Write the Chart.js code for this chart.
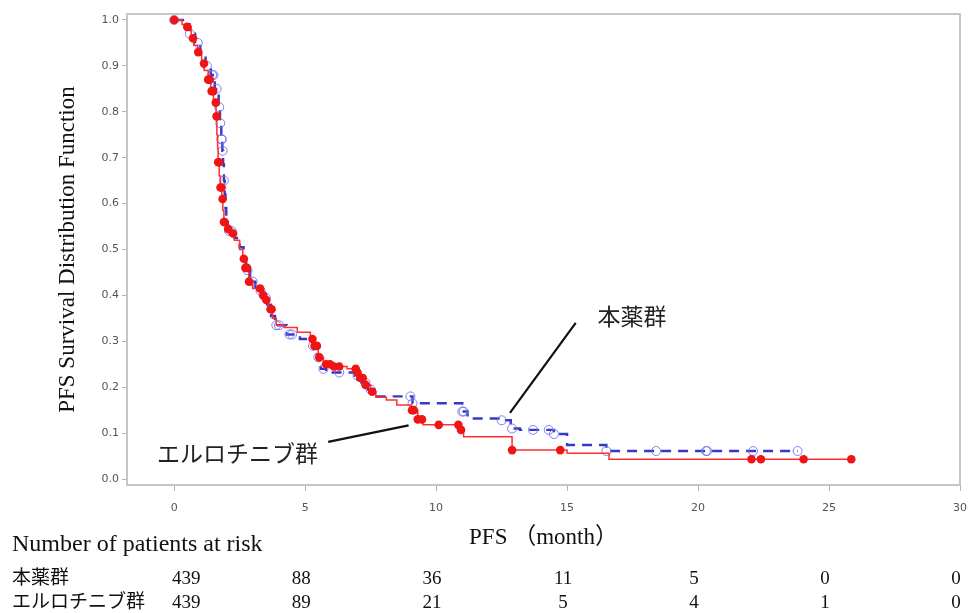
<!DOCTYPE html>
<html><head><meta charset="utf-8">
<script src="https://cdn.jsdelivr.net/npm/chart.js@4/dist/chart.umd.min.js"></script>
<style>html,body{margin:0;padding:0;background:#fff;}</style>
</head><body>
<canvas id="c" width="978" height="613"></canvas>
<script>
// ---- data ----
const xTickValues = [0, 5, 10, 15, 20, 25, 30];
const yTickValues = [0, 0.1, 0.2, 0.3, 0.4, 0.5, 0.6, 0.7, 0.8, 0.9, 1.0];
const drugLabel = '本薬群';
const erloLabel = 'エルロチニブ群';

const drugEventT = [0,0.4,0.6,0.8,1.0,1.2,1.4,1.55,1.7,1.75,1.8,1.84,1.87,1.9,1.93,1.96,1.99,2.05,2.3,2.5,2.65,2.75,2.9,3.1,3.4,3.55,3.7,3.85,4.3,4.8,5.3,5.45,5.6,5.8,6.9,7.15,7.4,7.65,9.1,11.0,11.2,12.5,12.85,13.2,14.5,15.0,16.5];
const drugEventS = [1.0,0.99,0.97,0.95,0.925,0.9,0.88,0.85,0.81,0.775,0.74,0.715,0.685,0.65,0.62,0.59,0.56,0.54,0.525,0.505,0.48,0.455,0.43,0.41,0.395,0.38,0.355,0.335,0.315,0.305,0.29,0.265,0.24,0.232,0.225,0.21,0.195,0.18,0.165,0.147,0.132,0.128,0.11,0.107,0.098,0.074,0.061];
const drugCensorT = [0,0.6,0.9,1.25,1.45,1.5,1.62,1.72,1.76,1.8,1.82,1.85,1.9,2.1,2.2,2.8,3.0,3.3,3.5,3.9,4.0,4.4,4.5,5.3,5.5,5.7,6.3,7.0,7.3,7.5,9.02,9.1,11.0,11.05,12.5,12.9,13.7,14.3,14.5,16.5,18.4,20.3,20.35,22.1,23.8];

const erloEventT = [0,0.3,0.5,0.65,0.75,0.9,1.05,1.15,1.3,1.4,1.5,1.6,1.63,1.66,1.68,1.72,1.77,1.82,1.86,1.9,1.98,2.1,2.3,2.5,2.62,2.7,2.85,3.0,3.3,3.5,3.6,3.75,3.9,4.2,4.7,5.2,5.35,5.5,5.7,6.0,6.6,6.95,7.1,7.3,7.5,7.7,8.1,8.5,9.05,9.3,9.5,10.9,11.05,12.9,15.0,16.6];
const erloEventS = [1.0,0.99,0.985,0.96,0.945,0.93,0.905,0.89,0.87,0.845,0.82,0.79,0.75,0.72,0.69,0.66,0.635,0.61,0.585,0.56,0.545,0.535,0.52,0.50,0.48,0.46,0.43,0.415,0.40,0.39,0.37,0.35,0.335,0.33,0.32,0.305,0.29,0.265,0.25,0.245,0.24,0.232,0.22,0.205,0.19,0.178,0.172,0.161,0.15,0.13,0.118,0.107,0.092,0.063,0.056,0.043];
const erloCensorT = [0,0.5,0.72,0.92,1.14,1.3,1.36,1.43,1.49,1.59,1.62,1.68,1.71,1.77,1.81,1.85,1.9,1.92,2.06,2.25,2.66,2.72,2.78,2.86,3.28,3.4,3.52,3.68,3.72,5.28,5.36,5.45,5.54,5.8,5.95,6.1,6.3,6.93,7.0,7.1,7.2,7.31,7.56,9.08,9.15,9.3,9.46,10.1,10.85,10.95,12.9,14.74,22.04,22.4,24.03,25.85];

const riskTitle = 'Number of patients at risk';
const riskTimes = [0, 5, 10, 15, 20, 25, 30];
const riskDrug = [439, 88, 36, 11, 5, 0, 0];
const riskErlo = [439, 89, 21, 5, 4, 1, 0];

// ---- helpers ----
function survAt(T, S, t) {
  let v = S[0];
  for (let i = 0; i < T.length; i++) { if (T[i] <= t) v = S[i]; else break; }
  return v;
}
function curve(T, S, endT) {
  const pts = T.map((t, i) => ({x: t, y: S[i]}));
  pts.push({x: endT, y: S[S.length - 1]});
  return pts;
}
function censors(T, S, C) { return C.map(t => ({x: t, y: survAt(T, S, t)})); }

const serif = "'Liberation Serif','Times New Roman','Noto Sans CJK JP',serif";
const cjk = "'Noto Sans CJK JP','Noto Sans',sans-serif";

const overlay = {
  id: 'overlay',
  afterDraw(chart) {
    const {ctx, chartArea: a, scales: {x, y}} = chart;
    ctx.save();
    // frame
    ctx.strokeStyle = '#c6c6c6'; ctx.lineWidth = 2;
    ctx.strokeRect(a.left, a.top, a.right - a.left, a.bottom - a.top);
    // annotation leaders
    ctx.strokeStyle = '#111'; ctx.lineWidth = 2.2;
    ctx.beginPath();
    ctx.moveTo(x.getPixelForValue(15.33), y.getPixelForValue(0.34));
    ctx.lineTo(x.getPixelForValue(12.82), y.getPixelForValue(0.144));
    ctx.moveTo(x.getPixelForValue(5.88), y.getPixelForValue(0.081));
    ctx.lineTo(x.getPixelForValue(8.95), y.getPixelForValue(0.117));
    ctx.stroke();
    ctx.fillStyle = '#222'; ctx.font = '23px ' + cjk; ctx.textBaseline = 'middle';
    ctx.textAlign = 'left';
    ctx.fillText(drugLabel, x.getPixelForValue(16.16), y.getPixelForValue(0.355));
    ctx.fillText(erloLabel, x.getPixelForValue(-0.65), y.getPixelForValue(0.057));
    // risk table
    ctx.fillStyle = '#111';
    ctx.font = '24px ' + serif;
    ctx.fillText(riskTitle, 12, 545);
    ctx.font = '19px ' + serif;
    ctx.fillText(drugLabel, 12, 579);
    ctx.fillText(erloLabel, 12, 603);
    ctx.textAlign = 'center';
    riskTimes.forEach((t, i) => {
      const px = x.getPixelForValue(t) + (i === 0 ? 12 : -4);
      ctx.fillText(String(riskDrug[i]), px, 579);
      ctx.fillText(String(riskErlo[i]), px, 603);
    });
    ctx.restore();
  }
};

new Chart(document.getElementById('c'), {
  type: 'line',
  data: {
    datasets: [
      { label: erloLabel + ' censored', type: 'scatter', data: censors(erloEventT, erloEventS, erloCensorT),
        pointRadius: 4.3, pointBackgroundColor: '#f01414', pointBorderColor: '#f01414', pointBorderWidth: 0, showLine: false, order: 0 },
      { label: erloLabel, data: curve(erloEventT, erloEventS, erloCensorT[erloCensorT.length - 1]),
        stepped: 'before', borderColor: '#ff3030', borderWidth: 1.5, pointRadius: 0, fill: false, order: 1 },
      { label: drugLabel + ' censored', type: 'scatter', data: censors(drugEventT, drugEventS, drugCensorT),
        pointRadius: 4.5, pointBackgroundColor: 'rgba(255,255,255,0)', pointBorderColor: 'rgba(110,110,235,0.85)', pointBorderWidth: 1, showLine: false, order: 2 },
      { label: drugLabel, data: curve(drugEventT, drugEventS, drugCensorT[drugCensorT.length - 1]),
        stepped: 'before', borderColor: '#3838c8', borderWidth: 2.4, borderDash: [10, 7], pointRadius: 0, fill: false, order: 3 }
    ]
  },
  options: {
    responsive: false, animation: false,
    layout: { padding: { left: 50, right: 12, top: 14, bottom: 57 } },
    plugins: { legend: { display: false }, tooltip: { enabled: false } },
    scales: {
      x: {
        type: 'linear', min: -1.8, max: 30,
        afterBuildTicks: s => { s.ticks = xTickValues.map(v => ({value: v})); },
        afterFit: s => { s.height = 71; },
        grid: { drawOnChartArea: false, drawTicks: true, tickLength: 6, color: '#b0b0b0', lineWidth: 1 },
        border: { display: false },
        ticks: { color: '#555', font: { family: 'DejaVu Sans', size: 11 }, padding: 11, maxRotation: 0, autoSkip: false, callback: v => String(v) },
        title: { display: true, text: 'PFS （month）', color: '#111', font: { family: serif, size: 23 }, padding: { top: 4, bottom: 4 } }
      },
      y: {
        type: 'linear', min: -0.013, max: 1.013,
        afterBuildTicks: s => { s.ticks = yTickValues.map(v => ({value: v})); },
        afterFit: s => { s.width = 77; },
        grid: { drawOnChartArea: false, drawTicks: true, tickLength: 5, color: '#b0b0b0', lineWidth: 1 },
        border: { display: false },
        ticks: { color: '#555', font: { family: 'DejaVu Sans', size: 11 }, padding: 3, autoSkip: false, callback: v => Number(v).toFixed(1) },
        title: { display: true, text: 'PFS Survival Distribution Function', color: '#111', font: { family: serif, size: 23 }, padding: { top: 4, bottom: 4 } }
      }
    }
  },
  plugins: [overlay]
});
</script>
</body></html>
